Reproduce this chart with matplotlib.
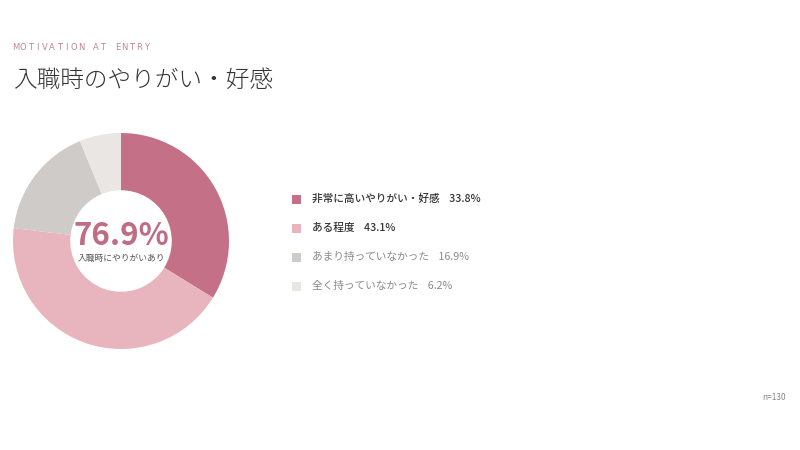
import matplotlib
matplotlib.use("Agg")
import matplotlib.pyplot as plt
from matplotlib.patches import Rectangle

plt.rcParams['font.family'] = ['Noto Sans CJK JP', 'DejaVu Sans']

#### data ####
labels = ['非常に高いやりがい・好感', 'ある程度', 'あまり持っていなかった', '全く持っていなかった']
values = [33.8, 43.1, 16.9, 6.2]
colors = ['#c47087', '#e8b4be', '#cfcbc8', '#e9e6e3']
text_colors = ['#333333', '#333333', '#8a8a8a', '#8a8a8a']
center_value = '76.9%'
center_label = '入職時にやりがいあり'
kicker = 'MOTIVATION AT ENTRY'
title = '入職時のやりがい・好感'
n_note = 'n=130'

W, H = 800, 450
fig = plt.figure(figsize=(8, 4.5), dpi=100)
fig.patch.set_facecolor('white')

# donut
cx, cy, r = 121, 241, 108
ax = fig.add_axes([(cx - r) / W, (H - cy - r) / H, 2 * r / W, 2 * r / H])
ax.pie(values, colors=colors, startangle=90, counterclock=False,
       wedgeprops=dict(width=0.53, edgecolor='none'))
ax.set_xlim(-1, 1)
ax.set_ylim(-1, 1)
ax.set_aspect('equal')
ax.axis('off')
ax.text(0, 0.05, center_value, ha='center', va='center', fontsize=22.5,
        fontweight='bold', color='#c06d84')
ax.text(0, -0.16, center_label, ha='center', va='center', fontsize=6.3,
        color='#555555')

# header: kicker with wide letter spacing (one cell per char)
x = 16
step = 7.25
for ch in kicker:
    if ch != ' ':
        fig.text(x / W, 1 - 48 / H, ch, fontsize=6, color='#c08599',
                 va='center', ha='center', family='DejaVu Sans')
    x += step
fig.text(13 / W, 1 - 80 / H, title, fontsize=17, color='#333333',
         va='center', ha='left', fontweight='light')

# legend
rows_y = [199, 228, 257, 286]
for lab, val, col, tcol, y in zip(labels, values, colors, text_colors, rows_y):
    fig.patches.append(Rectangle((292 / W, 1 - (y + 4.5) / H), 9 / W, 9 / H,
                                 transform=fig.transFigure, facecolor=col,
                                 edgecolor='none'))
    fw = 'medium' if tcol == '#333333' else 'normal'
    fig.text(312 / W, 1 - y / H, f'{lab}    {val:.1f}%', fontsize=7.7,
             color=tcol, va='center', ha='left', fontweight=fw)

fig.text(786 / W, 1 - 397 / H, n_note, fontsize=6, color='#888888',
         ha='right', va='center')

fig.savefig('out.png', dpi=100, facecolor='white')
